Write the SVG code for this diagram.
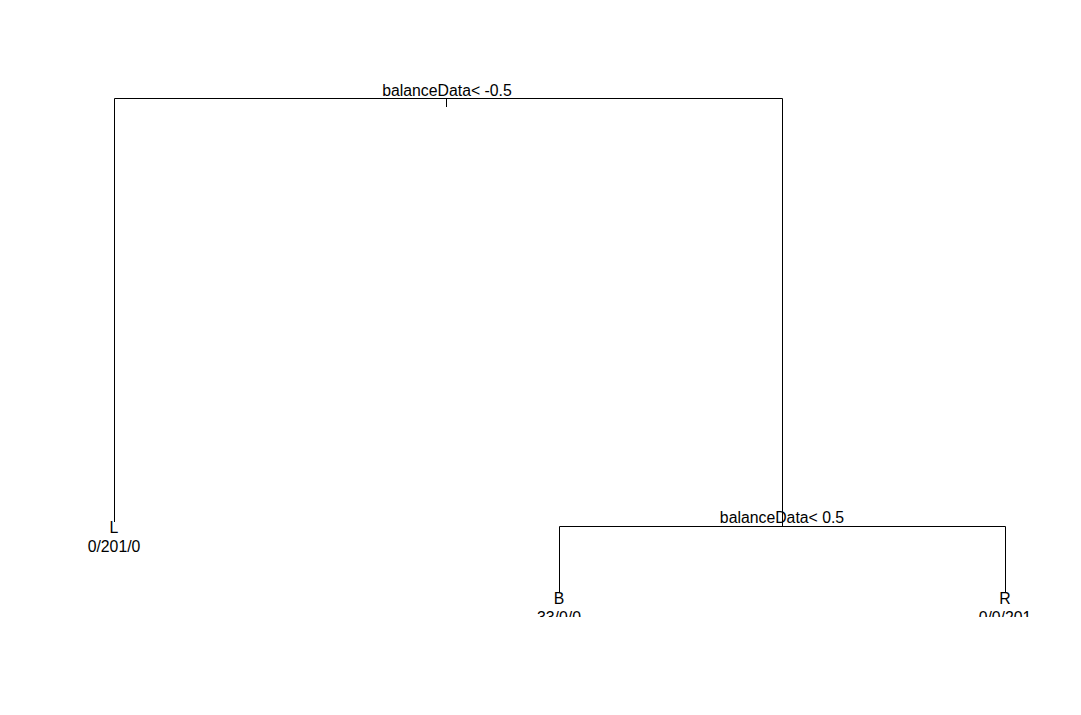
<svg xmlns="http://www.w3.org/2000/svg" width="1081" height="715" viewBox="0 0 1081 715">
  <defs>
    <style>
      .edge { stroke: #000; stroke-width: 1; fill: none; }
      .lbl { font-family: "Liberation Sans", Arial, sans-serif; font-size: 15.8px; fill: #000; text-anchor: middle; }
    </style>
    <clipPath id="plotClip">
      <rect x="0" y="0" width="1081" height="617"/>
    </clipPath>
  </defs>
  <rect width="1081" height="715" fill="#fff"/>
  <g clip-path="url(#plotClip)">
    <!-- tree branches -->
    <g id="connectors">
      <path class="edge" d="M114.5,522 V98.5 H782.5 V526.5"/>
      <path class="edge" d="M446.5,98.5 V107"/>
      <path class="edge" d="M559.5,592 V526.5 H1005.5 V592"/>
    </g>
    <g id="split-root">
      <text class="lbl" x="447" y="96">balanceData&lt; -0.5</text>
    </g>
    <g id="leaf-L">
      <text class="lbl" x="114" y="533">L</text>
      <text class="lbl" x="114" y="552">0/201/0</text>
    </g>
    <g id="split-right">
      <text class="lbl" x="782" y="523">balanceData&lt; 0.5</text>
    </g>
    <g id="leaf-B">
      <text class="lbl" x="559" y="604">B</text>
      <text class="lbl" x="559" y="623">33/0/0</text>
    </g>
    <g id="leaf-R">
      <text class="lbl" x="1005" y="604">R</text>
      <text class="lbl" x="1005" y="623">0/0/201</text>
    </g>
  </g>
</svg>
